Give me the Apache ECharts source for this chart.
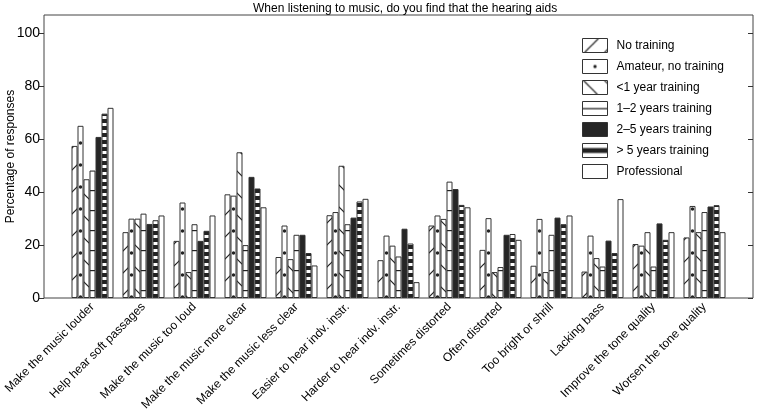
<!DOCTYPE html>
<html><head><meta charset="utf-8">
<script src="https://cdn.jsdelivr.net/npm/echarts@6/dist/echarts.min.js"></script>
<style>html,body{margin:0;padding:0;background:#fff}#c{width:760px;height:415px}</style>
</head><body><div id="c"></div>
<script>
const categories = ['Make the music louder','Help hear soft passages','Make the music too loud','Make the music more clear','Make the music less clear','Easier to hear indv. instr.','Harder to hear indv. instr.','Sometimes distorted','Often distorted','Too bright or shrill','Lacking bass','Improve the tone quality','Worsen the tone quality'];
const seriesNames = ['No training','Amateur, no training','<1 year training','1–2 years training','2–5 years training','> 5 years training','Professional'];
const noTraining   = [57.5,24.9,21.6,39.2,15.5,31.3,14.3,27.4,18.2,12.2,10.0,20.4,22.9];
const amateur      = [65.1,30.0,36.1,38.7,27.4,32.5,23.6,31.2,30.2,29.9,23.6,19.8,34.8];
const lessThan1    = [44.9,30.0,9.8,55.1,14.7,50.0,19.8,29.9,9.8,9.8,15.1,24.9,24.9];
const oneToTwo     = [48.2,31.9,27.9,20.0,23.9,27.9,15.7,44.0,11.7,23.9,11.9,11.9,32.5];
const twoToFive    = [60.9,28.0,21.6,45.8,23.9,30.4,26.2,41.2,23.9,30.4,21.7,28.2,34.6];
const moreThan5    = [69.7,29.4,25.4,41.4,17.0,36.5,20.6,35.2,24.2,27.9,17.0,22.0,35.1];
const professional = [71.9,31.2,31.2,34.3,12.3,37.5,6.0,34.3,22.0,31.2,37.4,24.9,24.9];
const yTickLabels = [0,20,40,60,80,100];
const seriesValues = [noTraining, amateur, lessThan1, oneToTwo, twoToFive, moreThan5, professional];

const INK = '#222';
function tile(w, h, draw) {
  const c = document.createElement('canvas');
  c.width = w; c.height = h;
  const g = c.getContext('2d');
  g.fillStyle = '#fff'; g.fillRect(0, 0, w, h);
  g.strokeStyle = INK; g.fillStyle = INK;
  draw(g);
  return { image: c, repeat: 'repeat' };
}
function line(g, x1, y1, x2, y2, lw) {
  g.lineWidth = lw || 1.2; g.beginPath(); g.moveTo(x1, y1); g.lineTo(x2, y2); g.stroke();
}
const barFills = [
  tile(22, 22, g => { for (const c of [0, 22, 44]) line(g, c + 2, -2, c - 24, 24); }),
  tile(51, 22, g => { g.beginPath(); g.arc(29.5, 11, 1.7, 0, Math.PI * 2); g.fill(); }),
  tile(22, 22, g => { for (const c of [-22, 0, 22]) line(g, c - 2, -2, c + 24, 24); }),
  tile(4, 20, g => { g.fillRect(0, 10, 4, 1.2); }),
  '#262626',
  tile(4, 7, g => { g.fillRect(0, 0, 4, 4); }),
  '#fff'
];
const legendFills = [
  tile(25, 14, g => { line(g, 2, 14, 16, 0); line(g, 22, 14, 26, 10); }),
  tile(25, 14, g => { g.beginPath(); g.arc(12.5, 7, 1.7, 0, Math.PI * 2); g.fill(); }),
  tile(25, 14, g => { line(g, 1, 0, 15, 14); line(g, 22, 0, 26, 4); }),
  tile(25, 14, g => { g.fillRect(0, 6.5, 25, 1.3); }),
  '#262626',
  tile(25, 14, g => { g.fillRect(0, 4.5, 25, 5); }),
  '#fff'
];

const FONT = 'Liberation Sans, Arial, Helvetica, sans-serif';
const chart = echarts.init(document.getElementById('c'), null, { renderer: 'canvas' });
chart.setOption({
  animation: false,
  backgroundColor: '#fff',
  textStyle: { fontFamily: FONT, color: '#000' },
  title: {
    text: 'When listening to music, do you find that the hearing aids',
    left: 248, top: -2,
    textStyle: { fontFamily: FONT, fontSize: 12, fontWeight: 'normal', color: '#000' }
  },
  legend: {
    orient: 'vertical', left: 577, top: 33,
    itemWidth: 25, itemHeight: 14, itemGap: 6,
    selectedMode: false,
    textStyle: { fontFamily: FONT, fontSize: 12, color: '#000', padding: [0, 0, 0, 4] },
    data: seriesNames.map((n, i) => ({
      name: n, icon: 'rect',
      itemStyle: { color: legendFills[i], borderColor: '#333', borderWidth: 1 }
    }))
  },
  grid: [
    { left: 44, right: 7, top: 15, bottom: 117, outerBoundsMode: 'none', containLabel: false, show: true, borderColor: '#444', borderWidth: 1, backgroundColor: 'transparent' },
    { left: 67, right: 30, top: 15, bottom: 117, outerBoundsMode: 'none', containLabel: false }
  ],
  xAxis: [
    { type: 'value', gridIndex: 0, min: 0, max: 1, show: false },
    {
      type: 'category', gridIndex: 1, data: categories,
      axisLine: { show: false }, axisTick: { show: false },
      axisLabel: { interval: 0, rotate: 45, fontSize: 12, margin: 7, color: '#000', fontFamily: FONT }
    }
  ],
  yAxis: [
    {
      type: 'value', gridIndex: 0, position: 'left', min: 0, max: 107, interval: 20,
      name: 'Percentage of responses', nameLocation: 'middle', nameGap: 27, nameMoveOverlap: false,
      nameTextStyle: { fontSize: 12, color: '#000', fontFamily: FONT },
      axisLine: { show: false }, splitLine: { show: false },
      axisTick: { show: true, inside: false, length: 5, lineStyle: { color: '#333' },
        customValues: yTickLabels },
      axisLabel: { fontSize: 14, color: '#000', margin: 4, fontFamily: FONT,
        customValues: yTickLabels,
        formatter: v => (yTickLabels.indexOf(v) >= 0 ? String(v) : '') }
    },
    {
      type: 'value', gridIndex: 0, position: 'right', min: 0, max: 107, interval: 20,
      axisLine: { show: false }, splitLine: { show: false },
      axisTick: { show: true, inside: true, length: 5, lineStyle: { color: '#333' },
        customValues: yTickLabels },
      axisLabel: { show: false }
    },
    { type: 'value', gridIndex: 1, min: 0, max: 107, show: false }
  ],
  series: seriesNames.map((n, i) => ({
    name: n, type: 'bar', xAxisIndex: 1, yAxisIndex: 2,
    data: seriesValues[i], barWidth: 6, barGap: '0%',
    itemStyle: { color: barFills[i], borderColor: '#333', borderWidth: 1 },
    emphasis: { disabled: true }
  }))
});
</script></body></html>
